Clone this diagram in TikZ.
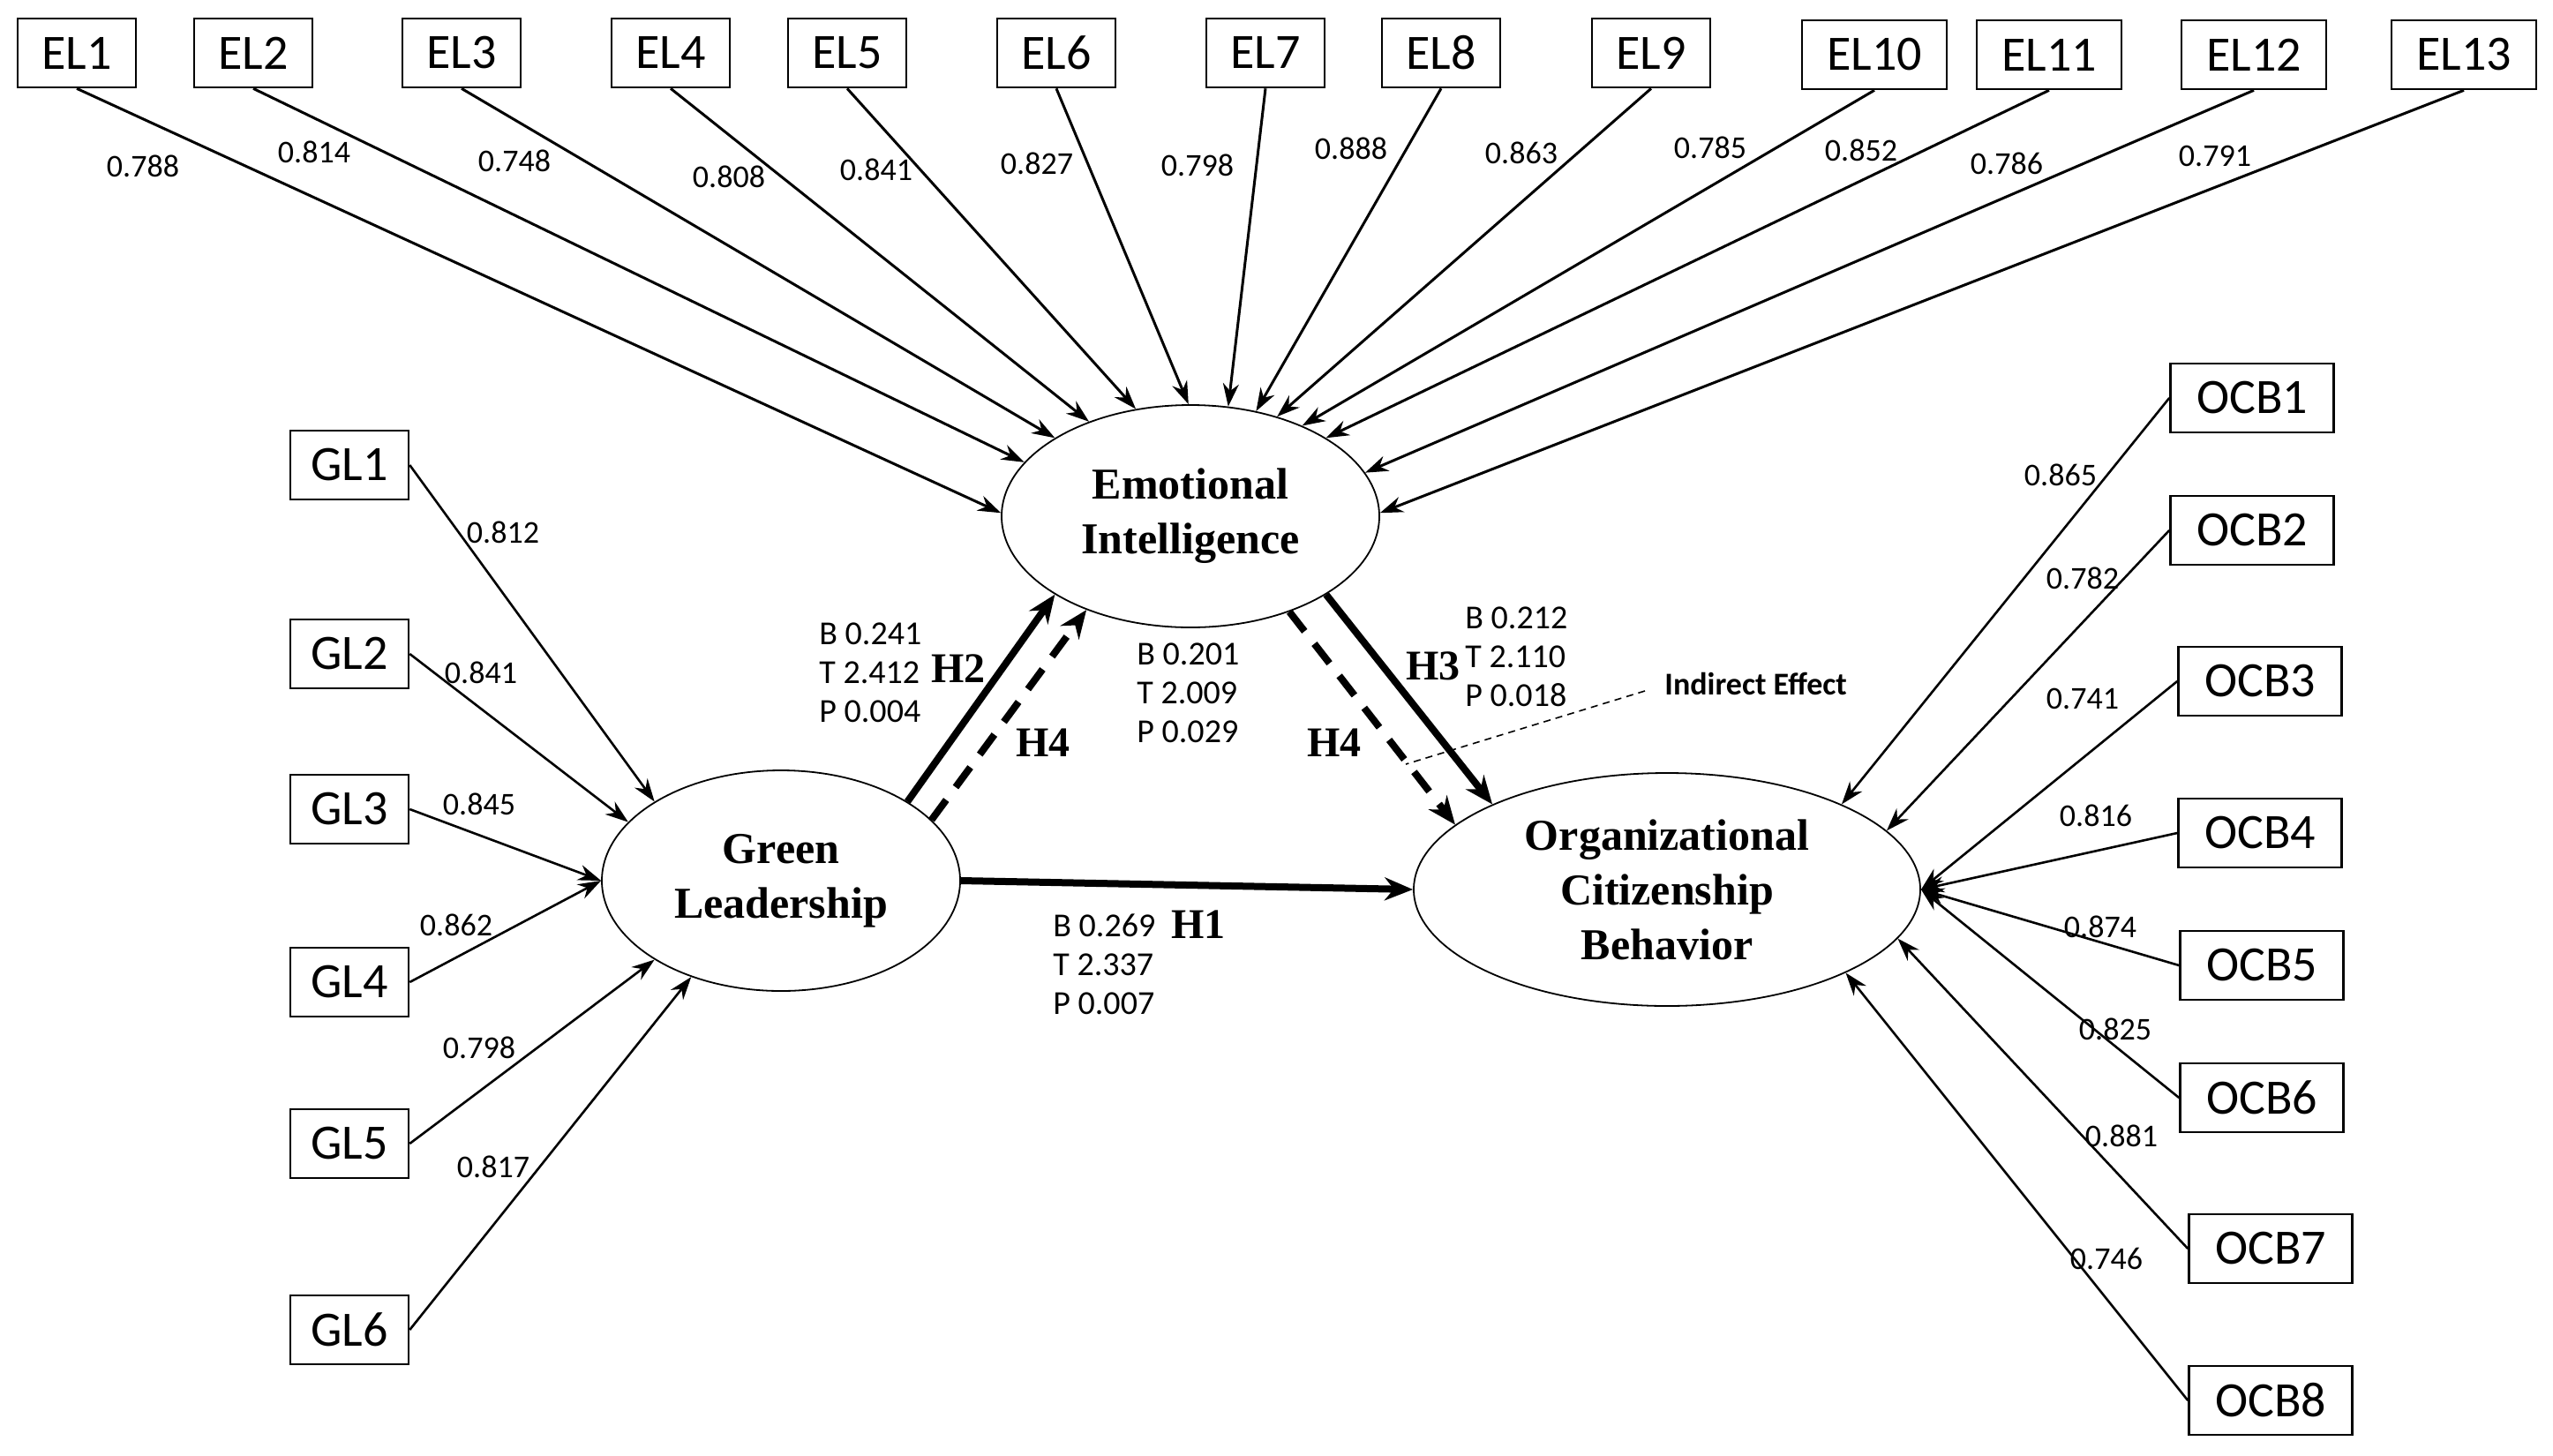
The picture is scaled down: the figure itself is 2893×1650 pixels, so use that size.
\documentclass[tikz,border=0pt]{standalone}
\usepackage{fontspec}
\setmainfont{Carlito}
\newfontfamily\tnr{Liberation Serif}
\usetikzlibrary{arrows.meta,shapes.geometric}
\begin{document}
\begin{tikzpicture}[x=0.5pt,y=-0.5pt,
  ind/.style={draw,line width=1.3pt,minimum width=67pt,minimum height=39pt,inner sep=0pt,font=\fontsize{28}{30}\selectfont},
  indw/.style={ind,minimum width=82pt},
  indo/.style={ind,minimum width=92.5pt},
  lat/.style={draw,ellipse,line width=0.9pt,inner sep=0pt,align=center,font=\tnr\bfseries\fontsize{25}{31}\selectfont},
  ld/.style={font=\fontsize{18}{20}\selectfont,inner sep=1pt},
  st/.style={font=\fontsize{19}{22}\selectfont,align=left,anchor=west,inner sep=0pt},
  hy/.style={font=\tnr\bfseries\fontsize{24}{26}\selectfont,inner sep=0pt},
  ar/.style={line width=1.5pt,-{Stealth[length=13pt,width=9pt]}},
  tk/.style={line width=4pt,-{Stealth[length=16pt,width=13pt]}},
  dsh/.style={tk,dash pattern=on 14pt off 9pt}]
\useasboundingbox (0,0) rectangle (2893,1650);
% indicators EL
\node[ind] (el1) at (87,60) {EL1};
\node[ind] (el2) at (287,60) {EL2};
\node[ind] (el3) at (523,60) {EL3};
\node[ind] (el4) at (760,60) {EL4};
\node[ind] (el5) at (960,60) {EL5};
\node[ind] (el6) at (1197,60) {EL6};
\node[ind] (el7) at (1434,60) {EL7};
\node[ind] (el8) at (1633,60) {EL8};
\node[ind] (el9) at (1871,60) {EL9};
\node[indw] (el10) at (2124,62) {EL10};
\node[indw] (el11) at (2322,62) {EL11};
\node[indw] (el12) at (2554,62) {EL12};
\node[indw] (el13) at (2792,62) {EL13};
% GL
\foreach \i/\y in {1/527,2/741,3/917,4/1113,5/1296,6/1507} \node[ind] (gl\i) at (396,\y) {GL\i};
% OCB
\node[indo] (ocb1) at (2552,451) {OCB1};
\node[indo] (ocb2) at (2552,601) {OCB2};
\node[indo] (ocb3) at (2561,772) {OCB3};
\node[indo] (ocb4) at (2561,944) {OCB4};
\node[indo] (ocb5) at (2563,1094) {OCB5};
\node[indo] (ocb6) at (2563,1244) {OCB6};
\node[indo] (ocb7) at (2573,1415) {OCB7};
\node[indo] (ocb8) at (2573,1587) {OCB8};
% latent
\node[lat,minimum width=214pt,minimum height=126pt] (ei) at (1349,585) {Emotional\\Intelligence};
\node[lat,minimum width=203pt,minimum height=125pt] (gl) at (885,998) {Green\\Leadership};
\node[lat,minimum width=287pt,minimum height=132pt] (ocb) at (1889,1008) {Organizational\\Citizenship\\Behavior};
% EL arrows
\foreach \i/\a in {1/179,2/162,3/150,4/137,5/117,6/91,7/71,8/58,9/49,10/39,11/30,12/14,13/1}
  \draw[ar] (el\i.south) -- (ei.\a);
% GL arrows
\foreach \i/\a in {1/148,2/159,3/180,4/180,5/212,6/227}
  \draw[ar,line width=1.3pt] (gl\i.east) -- (gl.\a);
% OCB arrows
\foreach \i/\a in {1/26,2/15,3/0,4/0,5/0,6/0,7/348,8/335}
  \draw[ar,line width=1.3pt] (ocb\i.west) -- (ocb.\a);
% structural
\draw[tk] (gl.32) -- (ei.210);
\draw[dsh] (gl.22) -- (ei.222);
\draw[tk] (gl.0) -- (ocb.180);
\draw[tk] (ei.330) -- (ocb.154);
\draw[dsh] (ei.316) -- (ocb.163);
% loading labels
\foreach \n/\x/\y/\t in {a/162/188/0.788,b/356/172/0.814,c/583/182/0.748,d/826/200/0.808,e/993/192/0.841,f/1175/185/0.827,g/1357/187/0.798,h/1531/168/0.888,i/1724/173/0.863,j/1938/167/0.785,k/2109/170/0.852,l/2274/185/0.786,m/2510/177/0.791,
  n/570/603/0.812,o/545/762/0.841,p/543/911/0.845,q/517/1048/0.862,r/543/1187/0.798,s/559/1322/0.817,
  t/2335/538/0.865,u/2360/655/0.782,v/2360/792/0.741,w/2375/924/0.816,x/2380/1050/0.874,y/2397/1166/0.825,z/2404/1287/0.881,zz/2387/1426/0.746}
  \node[ld] (lb\n) at (\x,\y) {\t};
% path statistics
\node[st] (s2) at (928,762) {B 0.241\\T 2.412\\P 0.004};
\node[st] (s4) at (1288,785) {B 0.201\\T 2.009\\P 0.029};
\node[st] (s1) at (1193,1093) {B 0.269\\T 2.337\\P 0.007};
\node[st] (s3) at (1660,744) {B 0.212\\T 2.110\\P 0.018};
\node[hy] (h2) at (1086,758) {H2};
\node[hy] (h4a) at (1182,842) {H4};
\node[hy] (h4b) at (1512,842) {H4};
\node[hy] (h1) at (1358,1048) {H1};
\node[hy] (h3) at (1624,755) {H3};
\node[font=\bfseries\fontsize{18}{20}\selectfont,anchor=west,inner sep=0pt] (ie) at (1886,775) {Indirect Effect};
\coordinate (ies) at (1864,783);
\coordinate (iep) at (1593,866);
\draw[line width=0.8pt,dash pattern=on 4pt off 3pt] (ies) -- (iep);
\end{tikzpicture}
\end{document}
